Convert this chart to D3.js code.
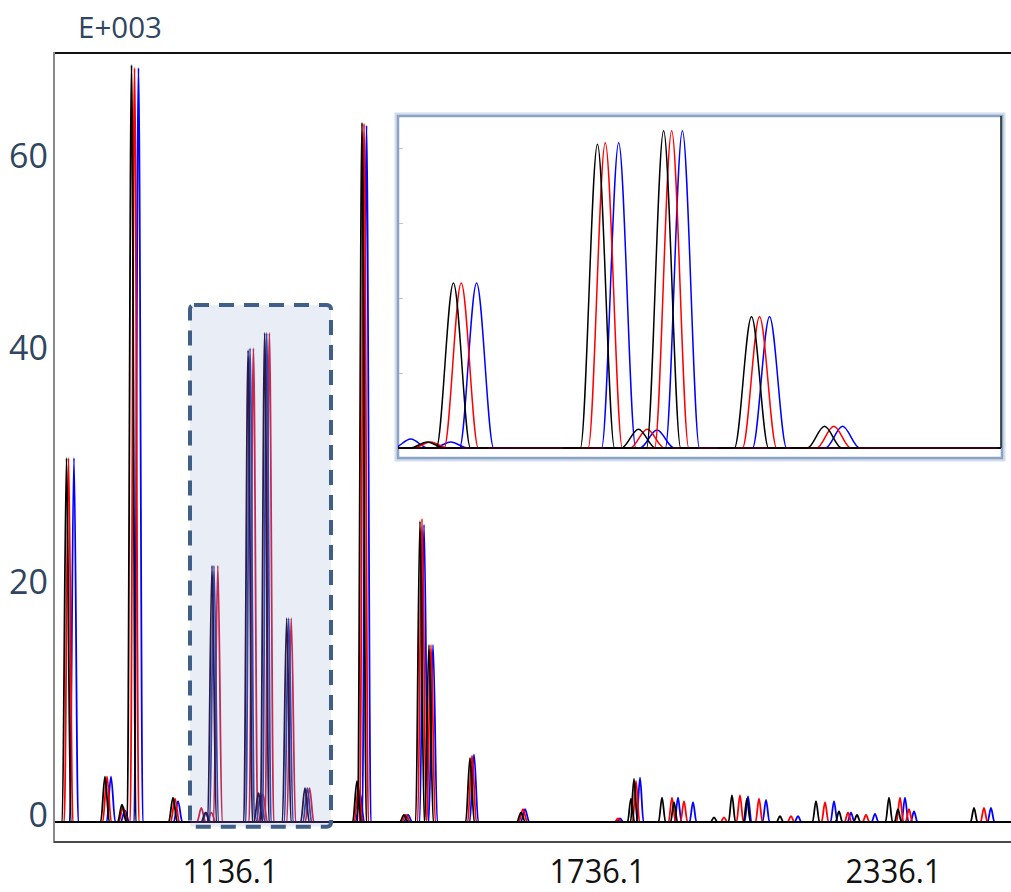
<!DOCTYPE html>
<html>
<head>
<meta charset="utf-8">
<script src="https://cdn.jsdelivr.net/npm/d3@7"></script>
<style>
  body { margin: 0; background: #fff; }
  svg { display: block; font-family: "Open Sans", sans-serif; }
</style>
</head>
<body>
<script>
// peaks: [m/z, intensity (x1000)]
const blackPeaks = [
  [868.8, 31.2], [931.7, 3.9], [959.5, 1.5], [975.1, 70.2], [1042.9, 2.1],
  [1096.0, 0.8], [1106.7, 22.0], [1165.7, 40.5], [1182.5, 2.5], [1192.8, 42.3],
  [1228.8, 17.5], [1258.7, 2.9], [1343.7, 3.5], [1351.9, 64.2], [1420.6, 0.6],
  [1446.7, 25.8], [1461.4, 15.2], [1528.5, 5.5], [1611.9, 0.8], [1805.0, 2.0],
  [1811.1, 3.7], [1867.9, 2.1], [1892.2, 1.7], [1973.3, 0.4], [2009.7, 2.3],
  [2040.1, 2.0], [2107.0, 0.5], [2180.0, 1.8], [2226.6, 0.9], [2263.1, 0.6],
  [2328.0, 2.1], [2346.2, 1.1], [2500.3, 1.2]
];
const redPeaks = [
  [872.1, 31.2], [935.0, 3.9], [961.2, 1.3], [980.0, 69.9], [1046.2, 2.0],
  [1097.3, 0.8], [1109.9, 22.0], [1168.9, 40.7], [1186.1, 2.5], [1196.1, 42.3],
  [1232.1, 17.5], [1262.5, 2.9], [1346.2, 3.0], [1355.2, 64.1], [1423.8, 0.6],
  [1450.0, 26.0], [1464.7, 15.2], [1531.8, 5.7], [1615.1, 1.1], [1778.7, 0.3],
  [1815.2, 3.5], [1888.1, 2.1], [1912.4, 1.8], [1993.5, 0.4], [2025.9, 2.3],
  [2064.5, 2.0], [2129.3, 0.5], [2198.3, 1.7], [2244.9, 0.8], [2281.4, 0.6],
  [2350.3, 2.1], [2368.5, 1.1], [2520.5, 1.2]
];
const bluePeaks = [
  [881.0, 31.2], [941.5, 3.9], [964.4, 1.0], [986.5, 69.9], [1051.1, 1.8],
  [1089.2, 1.2], [1105.6, 0.8], [1116.2, 22.0], [1174.4, 40.7], [1190.1, 2.4],
  [1200.5, 42.3], [1236.2, 17.5], [1266.1, 2.9], [1348.6, 2.5], [1359.3, 63.9],
  [1427.1, 0.6], [1453.3, 25.5], [1468.0, 15.2], [1535.0, 5.8], [1618.4, 1.1],
  [1782.7, 0.3], [1823.3, 3.8], [1900.3, 2.1], [1930.7, 1.7], [2042.2, 2.2],
  [2078.7, 1.9], [2143.5, 0.5], [2216.5, 1.8], [2250.9, 0.8], [2299.6, 0.7],
  [2360.4, 2.1], [2378.7, 0.9], [2534.7, 1.2]
];

const xTicks = [1136.1, 1736.1, 2336.1];
const yTicks = [0, 20, 40, 60];
const insetTicks = [10, 20, 30, 40];
const zoomWindow = [1084, 1331];      // m/z range shown in the inset
const insetMax = 44.27;
const boxMz = [1070.7, 1301.2];       // highlighted region
const boxInt = [-0.4, 45.2];
const halfWidth = 7;                  // peak half base width, m/z

const series = [bluePeaks, redPeaks, blackPeaks];   // draw order
const colors = ["#0000ff", "#ff0000", "#000000"];
const boxColors = ["#c42a52", "#3446b4", "#2b1a45"];

const W = 1011, H = 892;
const plot = {left: 55, right: 1011, top: 54, bottom: 841};

const svg = d3.select("body").append("svg")
    .attr("width", W)
    .attr("height", H);

// the axis labels are not evenly spaced in the picture, so the scales are piecewise
const x = d3.scaleLinear().domain(xTicks).range([230, 597, 893]);
const y = d3.scaleLinear().domain(yTicks).range([822, 589, 355, 163]);
const mzExtent = [x.invert(plot.left), x.invert(plot.right)];

const box = {
    x0: x(boxMz[0]), x1: x(boxMz[1]),
    y0: y(boxInt[1]), y1: y(boxInt[0])
};

const defs = svg.append("defs");
defs.append("clipPath").attr("id", "outside")
    .append("path")
    .attr("clip-rule", "evenodd")
    .attr("d", "M" + plot.left + "," + plot.top + "H" + plot.right + "V" + plot.bottom + "H" + plot.left + "Z" +
        "M" + box.x0 + "," + box.y0 + "H" + box.x1 + "V" + box.y1 + "H" + box.x0 + "Z");
defs.append("clipPath").attr("id", "inbox")
    .append("rect")
    .attr("x", box.x0).attr("y", box.y0)
    .attr("width", box.x1 - box.x0).attr("height", box.y1 - box.y0);

function drawTraces(g, xs, ys, cols, extent, sw) {
    const line = d3.line()
        .x(d => xs(d[0]))
        .y(d => ys(d[1]))
        .curve(d3.curveMonotoneX);
    series.forEach((peaks, i) => {
        const sg = g.append("g")
            .attr("fill", "none")
            .attr("stroke", cols[i])
            .attr("stroke-width", sw);
        sg.append("path").attr("d", line([[extent[0], 0], [extent[1], 0]]));
        sg.selectAll("path.peak")
            .data(peaks)
            .join("path")
            .attr("class", "peak")
            .attr("d", p => line([
                [p[0] - 2 * halfWidth, 0], [p[0] - halfWidth, 0], [p[0], p[1]],
                [p[0] + halfWidth, 0], [p[0] + 2 * halfWidth, 0]
            ]));
    });
}

// highlight box fill
svg.append("rect")
    .attr("x", box.x0).attr("y", box.y0)
    .attr("width", box.x1 - box.x0).attr("height", box.y1 - box.y0)
    .attr("fill", "#e9eef6");

drawTraces(svg.append("g").attr("clip-path", "url(#outside)"), x, y, colors, mzExtent, 1.8);
drawTraces(svg.append("g").attr("clip-path", "url(#inbox)"), x, y, boxColors, mzExtent, 1.8);

// dashed outline
svg.append("rect")
    .attr("x", box.x0).attr("y", box.y0)
    .attr("width", box.x1 - box.x0).attr("height", box.y1 - box.y0)
    .attr("rx", 4)
    .attr("fill", "none")
    .attr("stroke", "#3f5f88")
    .attr("stroke-width", 4)
    .attr("stroke-dasharray", "15 10");

// frame
svg.append("line").attr("x1", 54).attr("x2", W).attr("y1", 53).attr("y2", 53)
    .attr("stroke", "#111").attr("stroke-width", 2);
svg.append("line").attr("x1", 54).attr("x2", 54).attr("y1", 52).attr("y2", 843)
    .attr("stroke", "#8a8a8a").attr("stroke-width", 2);
svg.append("line").attr("x1", 54).attr("x2", W).attr("y1", 842).attr("y2", 842)
    .attr("stroke", "#4a4a4a").attr("stroke-width", 2);

// axes
const yAxis = svg.append("g")
    .attr("transform", "translate(54,0)")
    .call(d3.axisLeft(y).tickValues(yTicks).tickSize(0).tickPadding(6));
yAxis.select(".domain").remove();
yAxis.selectAll("text")
    .attr("y", -6)
    .attr("font-family", "'Open Sans', sans-serif")
    .attr("font-size", 34)
    .attr("fill", "#2f4560");

const xAxis = svg.append("g")
    .attr("transform", "translate(0,842)")
    .call(d3.axisBottom(x).tickValues(xTicks).tickFormat(d3.format(".1f")).tickSize(0).tickPadding(18));
xAxis.select(".domain").remove();
xAxis.selectAll("text")
    .attr("font-family", "'Open Sans', sans-serif")
    .attr("font-size", 32)
    .attr("fill", "#111")
    .attr("transform", "scale(0.96,1)");

svg.append("text")
    .attr("x", 78).attr("y", 38)
    .attr("font-size", 29.5)
    .attr("fill", "#2f4560")
    .text("E+003");

// inset (zoom of the highlighted region)
const inset = {left: 398, right: 1001, top: 116, base: 448, bottom: 458};
const ix = d3.scaleLinear().domain(zoomWindow).range([inset.left, inset.right]);
const iy = d3.scaleLinear().domain([0, insetMax]).range([inset.base, inset.top]);

defs.append("clipPath").attr("id", "insetclip")
    .append("rect")
    .attr("x", inset.left).attr("y", inset.top)
    .attr("width", inset.right - inset.left).attr("height", inset.base - inset.top + 2);

svg.append("rect")
    .attr("x", inset.left - 1).attr("y", inset.top - 1)
    .attr("width", inset.right - inset.left + 3).attr("height", inset.bottom - inset.top + 2)
    .attr("fill", "none")
    .attr("stroke", "#d3dded")
    .attr("stroke-width", 5);
svg.append("rect")
    .attr("x", inset.left).attr("y", inset.top)
    .attr("width", inset.right - inset.left + 1).attr("height", inset.bottom - inset.top)
    .attr("fill", "#fff")
    .attr("stroke", "#8ba4c4")
    .attr("stroke-width", 2.5);

const iAxis = svg.append("g")
    .attr("transform", "translate(" + (inset.left + 1) + ",0)")
    .call(d3.axisRight(iy).tickValues(insetTicks).tickSize(4).tickFormat(""));
iAxis.select(".domain").remove();
iAxis.selectAll("line").attr("stroke", "#c4c4c4");

drawTraces(svg.append("g").attr("clip-path", "url(#insetclip)"), ix, iy, colors, zoomWindow, 1.5);

svg.append("line")
    .attr("x1", inset.right).attr("x2", inset.right)
    .attr("y1", inset.top).attr("y2", inset.base)
    .attr("stroke", "#222").attr("stroke-width", 1.5);
</script>
</body>
</html>
